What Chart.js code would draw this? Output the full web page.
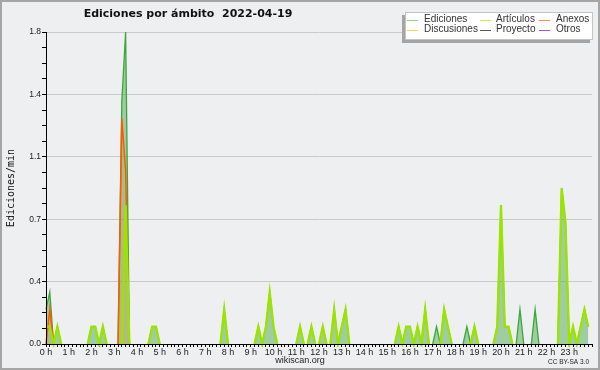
<!DOCTYPE html>
<html>
<head>
<meta charset="utf-8">
<script src="https://cdn.jsdelivr.net/npm/chart.js@4.4.1/dist/chart.umd.min.js"></script>
<style>
  html, body { margin: 0; padding: 0; background: #eeeff0; }
  #wrap { width: 600px; height: 370px; }
</style>
</head>
<body>
<div id="wrap"><canvas id="chart" width="600" height="370"></canvas></div>
<script>
// values in edits/min, one per 10-minute slot (12 per row = 2 hours)
const ediciones = [
  0.2, 0.3, 0, 0.1, 0, 0, 0, 0, 0, 0, 0, 0,
  0.1, 0.1, 0, 0.1, 0, 0, 0, 0, 1.4, 1.8, 0, 0,
  0, 0, 0, 0, 0.1, 0.1, 0, 0, 0, 0, 0, 0,
  0, 0, 0, 0, 0, 0, 0, 0, 0, 0, 0, 0.2,
  0, 0, 0, 0, 0, 0, 0, 0, 0.1, 0, 0.1, 0.3,
  0.1, 0, 0, 0, 0, 0, 0, 0.1, 0, 0, 0.1, 0,
  0, 0.1, 0, 0, 0.2, 0, 0.1, 0.2, 0, 0, 0, 0,
  0, 0, 0, 0, 0, 0, 0, 0, 0, 0.1, 0, 0.1,
  0.1, 0, 0.1, 0, 0.2, 0, 0, 0.1, 0, 0.2, 0.1, 0,
  0, 0, 0, 0.1, 0, 0.1, 0, 0, 0, 0, 0, 0.1,
  0.8, 0.1, 0.1, 0, 0, 0.2, 0, 0, 0, 0.2, 0, 0,
  0, 0, 0, 0, 0.9, 0.7, 0, 0.1, 0, 0.1, 0.2, 0.1,
];
const articulos = [
  0.1, 0.1, 0, 0.1, 0, 0, 0, 0, 0, 0, 0, 0,
  0.1, 0.1, 0, 0.1, 0, 0, 0, 0, 0, 0.8, 0, 0,
  0, 0, 0, 0, 0.1, 0.1, 0, 0, 0, 0, 0, 0,
  0, 0, 0, 0, 0, 0, 0, 0, 0, 0, 0, 0.2,
  0, 0, 0, 0, 0, 0, 0, 0, 0.1, 0, 0.1, 0.3,
  0.1, 0, 0, 0, 0, 0, 0, 0.1, 0, 0, 0.1, 0,
  0, 0.1, 0, 0, 0.2, 0, 0.1, 0.2, 0, 0, 0, 0,
  0, 0, 0, 0, 0, 0, 0, 0, 0, 0.1, 0, 0.1,
  0.1, 0, 0.1, 0, 0.2, 0, 0, 0, 0, 0.2, 0.1, 0,
  0, 0, 0, 0, 0, 0.1, 0, 0, 0, 0, 0, 0.1,
  0.8, 0.1, 0.1, 0, 0, 0, 0, 0, 0, 0, 0, 0,
  0, 0, 0, 0, 0.9, 0.7, 0, 0.1, 0, 0.1, 0.2, 0.1,
];
const anexos = [
  0, 0.2, 0, 0, 0, 0, 0, 0, 0, 0, 0, 0,
  0, 0, 0, 0, 0, 0, 0, 0, 1.3, 1.0, 0, 0,
  0, 0, 0, 0, 0, 0, 0, 0, 0, 0, 0, 0,
  0, 0, 0, 0, 0, 0, 0, 0, 0, 0, 0, 0,
  0, 0, 0, 0, 0, 0, 0, 0, 0, 0, 0, 0,
  0, 0, 0, 0, 0, 0, 0, 0, 0, 0, 0, 0,
  0, 0, 0, 0, 0, 0, 0, 0, 0, 0, 0, 0,
  0, 0, 0, 0, 0, 0, 0, 0, 0, 0, 0, 0,
  0, 0, 0, 0, 0, 0, 0, 0, 0, 0, 0, 0,
  0, 0, 0, 0, 0, 0, 0, 0, 0, 0, 0, 0,
  0, 0, 0, 0, 0, 0, 0, 0, 0, 0, 0, 0,
  0, 0, 0, 0, 0, 0, 0, 0, 0, 0, 0, 0,
];

const yMajorTicks = [0, 0.36, 0.72, 1.08, 1.44, 1.8];
const yTickLabels = ["0.0", "0.4", "0.7", "1.1", "1.4", "1.8"];
const slotsPerHour = 6;
const hours = 24;

const legendLabels = ["Ediciones", "Artículos", "Anexos", "Discusiones", "Proyecto", "Otros"];
const legendColors = ["#8fd08f", "#c9ec5a", "#ff8a4c", "#ffd24a", "#555555", "#9b55e8"];

const titleText = "Ediciones por ámbito  2022-04-19";
const yTitle = "Ediciones/min";

function toPoints(values) {
  return values.map((v, i) => ({ x: i, y: v }));
}

// hide the flat parts that sit on the baseline
const hideFlat = {
  borderColor: (c) =>
    c.p0.parsed.y === 0 && c.p1.parsed.y === 0 ? "rgba(0,0,0,0)" : undefined,
};

const decorations = {
  id: "decorations",
  beforeDraw(chart) {
    const ctx = chart.ctx;
    ctx.save();
    ctx.fillStyle = "#eeeff0";
    ctx.fillRect(0, 0, chart.width, chart.height);
    ctx.restore();
  },
  afterDatasetsDraw(chart) {
    // axis lines back on top of the series
    const ctx = chart.ctx;
    const a = chart.chartArea;
    ctx.save();
    ctx.strokeStyle = "#000";
    ctx.lineWidth = 1;
    ctx.beginPath();
    ctx.moveTo(Math.round(a.left) + 0.5, a.top);
    ctx.lineTo(Math.round(a.left) + 0.5, Math.round(a.bottom) + 0.5);
    ctx.lineTo(a.right, Math.round(a.bottom) + 0.5);
    ctx.stroke();
    ctx.restore();
  },
  afterDraw(chart) {
    const ctx = chart.ctx;
    ctx.save();

    // title
    ctx.fillStyle = "#111";
    ctx.font = "bold 11px 'DejaVu Sans'";
    ctx.textAlign = "center";
    ctx.textBaseline = "middle";
    ctx.fillText(titleText, 188, 14);

    // y axis title
    ctx.save();
    ctx.translate(11, 188);
    ctx.rotate(-Math.PI / 2);
    ctx.font = "10px 'DejaVu Sans Mono'";
    ctx.fillText(yTitle, 0, 0);
    ctx.restore();

    // footer
    ctx.font = "9px 'Liberation Sans'";
    ctx.fillStyle = "#222";
    ctx.fillText("wikiscan.org", 300, 361);
    ctx.font = "6.5px 'Liberation Sans'";
    ctx.textAlign = "right";
    ctx.fillText("CC BY-SA 3.0", 589, 362);

    // legend box with shadow
    ctx.fillStyle = "#a4a4a4";
    ctx.fillRect(402, 15, 188, 28);
    ctx.fillStyle = "#ffffff";
    ctx.fillRect(405, 12, 188, 28);
    ctx.strokeStyle = "#c4c4c4";
    ctx.lineWidth = 1;
    ctx.strokeRect(405.5, 12.5, 187, 27);

    const colX = [407, 480, 539];
    const colText = [424, 496, 556];
    const rowY = [19.5, 29.5];
    ctx.font = "10px 'Liberation Sans'";
    ctx.textAlign = "left";
    legendLabels.forEach((label, k) => {
      const c = k % 3;
      const r = Math.floor(k / 3);
      ctx.strokeStyle = legendColors[k];
      ctx.beginPath();
      ctx.moveTo(colX[c], Math.round(rowY[r]) + 0.5);
      ctx.lineTo(colX[c] + 11, Math.round(rowY[r]) + 0.5);
      ctx.stroke();
      ctx.fillStyle = "#333";
      ctx.fillText(label, colText[c], rowY[r]);
    });

    // frame
    ctx.strokeStyle = "#a6a6a6";
    ctx.lineWidth = 2;
    ctx.strokeRect(1, 1, chart.width - 2, chart.height - 2);
    ctx.restore();
  },
};

function yTicksWithMinor() {
  const ticks = [];
  for (let k = 0; k < yMajorTicks.length; k++) {
    ticks.push({ value: yMajorTicks[k], major: true, label: yTickLabels[k] });
    if (k < yMajorTicks.length - 1) {
      const a = yMajorTicks[k];
      const b = yMajorTicks[k + 1];
      for (let m = 1; m < 4; m++) {
        ticks.push({ value: a + ((b - a) * m) / 4, major: false, label: "" });
      }
    }
  }
  return ticks;
}

const config = {
  type: "line",
  data: {
    datasets: [
      {
        label: "Artículos",
        data: toPoints(articulos),
        borderColor: "#9ce400",
        borderWidth: 2.3,
        fill: false,
        pointRadius: 0,
        tension: 0,
        clip: 3,
        segment: hideFlat,
      },
      {
        label: "Anexos",
        data: toPoints(anexos),
        borderColor: "#ff5a00",
        backgroundColor: "rgba(255,110,0,0.18)",
        borderWidth: 1.5,
        fill: "origin",
        pointRadius: 0,
        tension: 0,
        clip: 3,
        segment: hideFlat,
      },
      {
        label: "Ediciones",
        data: toPoints(ediciones),
        borderColor: "#3aa83a",
        backgroundColor: "rgba(80,170,80,0.5)",
        borderWidth: 1.3,
        fill: "origin",
        pointRadius: 0,
        tension: 0,
        clip: 3,
        segment: hideFlat,
      },
    ],
  },
  options: {
    responsive: false,
    animation: false,
    layout: { padding: { left: 0, right: 8, top: 32, bottom: 0 } },
    plugins: {
      legend: { display: false },
      tooltip: { enabled: false },
    },
    scales: {
      x: {
        type: "linear",
        min: 0,
        max: hours * slotsPerHour,
        afterBuildTicks: (scale) => {
          const t = [];
          for (let i = 0; i <= hours * slotsPerHour; i++) t.push({ value: i });
          scale.ticks = t;
        },
        afterFit: (scale) => {
          scale.height = 26;
        },
        border: { color: "#000", width: 1 },
        grid: {
          drawOnChartArea: false,
          drawTicks: true,
          tickLength: 3,
          tickColor: "#000",
        },
        ticks: {
          autoSkip: false,
          maxRotation: 0,
          minRotation: 0,
          padding: 0,
          color: "#222",
          font: { family: "Liberation Sans", size: 9 },
          callback: (value) =>
            value % slotsPerHour === 0 && value < hours * slotsPerHour
              ? value / slotsPerHour + " h"
              : "",
        },
      },
      y: {
        min: 0,
        max: 1.8,
        afterBuildTicks: (scale) => {
          scale.ticks = yTicksWithMinor();
        },
        afterFit: (scale) => {
          scale.width = 46;
        },
        border: { color: "#000", width: 1 },
        grid: {
          color: (c) => (c.tick && c.tick.major ? "#c9c9c9" : "rgba(0,0,0,0)"),
          tickColor: "#000",
          tickLength: 4,
          drawTicks: true,
        },
        ticks: {
          autoSkip: false,
          padding: 1,
          color: "#222",
          font: { family: "Liberation Sans", size: 8.5 },
          callback: function (value, index, ticks) {
            return ticks[index].label;
          },
        },
      },
    },
  },
  plugins: [decorations],
};

new Chart(document.getElementById("chart"), config);
</script>
</body>
</html>
